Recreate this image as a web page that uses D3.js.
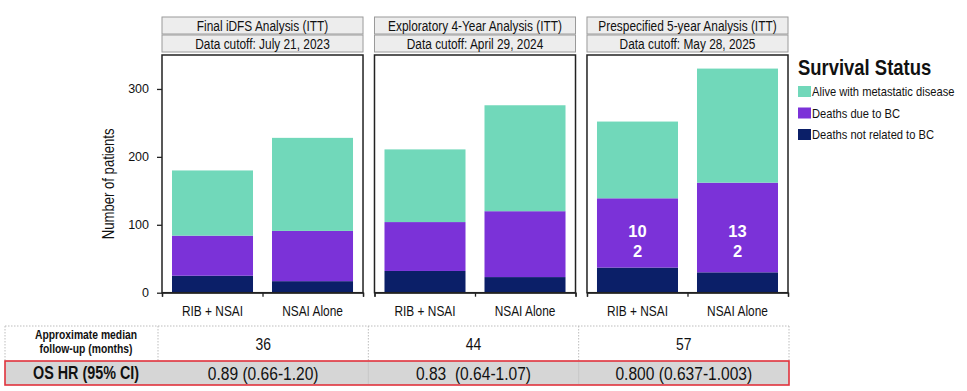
<!DOCTYPE html>
<html><head><meta charset="utf-8">
<script src="https://cdn.jsdelivr.net/npm/d3@7"></script>
<style>body{margin:0;background:#fff}svg{display:block}</style>
</head><body>
<svg id="chart" width="967" height="391"></svg>
<script>
const panelTitles = ["Final iDFS Analysis (ITT)", "Exploratory 4-Year Analysis (ITT)", "Prespecified 5-year Analysis (ITT)"];
const panelCutoffs = ["Data cutoff: July 21, 2023", "Data cutoff: April 29, 2024", "Data cutoff: May 28, 2025"];
const groups = ["RIB + NSAI", "NSAI Alone"];
const seriesNames = ["Deaths not related to BC", "Deaths due to BC", "Alive with metastatic disease"];
// per panel: [RIB + NSAI, NSAI Alone]
const deathsNotBC = [[25, 17], [32, 23], [37, 30]];
const deathsBC = [[59, 74], [72, 97], [102, 132]];
const aliveMet = [[96, 137], [107, 156], [113, 168]];
const labelPanels = [false, false, true];
const yTicks = [0, 100, 200, 300];
const tableLabels = ["Approximate median", "follow-up (months)"];
const hrLabel = "OS HR (95% CI)";
const followUp = ["36", "44", "57"];
const osHR = ["0.89 (0.66-1.20)", "0.83  (0.64-1.07)", "0.800 (0.637-1.003)"];
const colors = ["#0B1F68", "#7B32D8", "#71D8BA"];

const FONT = "'Liberation Sans',Arial,sans-serif";
const SQ = 0.82; // condensed look of the reference typeface

const svg = d3.select("#chart");
const y = d3.scaleLinear().domain([0, 350]).range([292.7, 55]);
const px = d3.scaleBand().domain(d3.range(3)).range([162, 788]).paddingInner(0.054);
const w = px.bandwidth();
const bx = d3.scaleBand().domain(groups).range([0, w]).paddingInner(0.19).paddingOuter(0.1);
const color = d3.scaleOrdinal().domain(seriesNames).range(colors);

// condensed text placed at (x, y)
function nar(sel, x, y, extra = "") {
  return sel.attr("font-family", FONT)
    .attr("transform", function (d, i) {
      const xx = typeof x === "function" ? x(d, i) : x;
      const yy = typeof y === "function" ? y(d, i) : y;
      return `translate(${xx},${yy}) ${extra} scale(${SQ},1)`;
    });
}

panelTitles.forEach((title, i) => {
  const g = svg.append("g").attr("transform", `translate(${px(i)},0)`);
  // header strips
  [[title, 17], [panelCutoffs[i], 35]].forEach(([txt, yy]) => {
    g.append("rect").attr("x", 0).attr("y", yy).attr("width", w).attr("height", 17)
      .attr("fill", "#EDEDED").attr("stroke", "#9A9A9A").attr("stroke-width", 1);
    nar(g.append("text"), w / 2, yy + 8.5).attr("dy", "0.36em")
      .attr("text-anchor", "middle").attr("font-size", 14.5)
      .attr("fill", "#111").text(txt);
  });
  // stacked bars
  const rows = groups.map((gn, j) => ({
    group: gn,
    [seriesNames[0]]: deathsNotBC[i][j],
    [seriesNames[1]]: deathsBC[i][j],
    [seriesNames[2]]: aliveMet[i][j]
  }));
  const layers = d3.stack().keys(seriesNames)(rows);
  g.selectAll("g.layer").data(layers).join("g").attr("class", "layer")
    .attr("fill", d => color(d.key))
    .selectAll("rect").data(d => d).join("rect")
    .attr("x", d => bx(d.data.group)).attr("width", bx.bandwidth())
    .attr("y", d => y(d[1])).attr("height", d => y(d[0]) - y(d[1]));
  // in-bar labels (deaths due to BC)
  if (labelPanels[i]) {
    layers[1].forEach(d => {
      const s = String(d[1] - d[0]);
      const cx = bx(d.data.group) + bx.bandwidth() / 2;
      const t = g.append("text").attr("x", cx)
        .attr("y", y(90)).attr("text-anchor", "middle")
        .attr("font-family", FONT).attr("font-weight", "bold").attr("font-size", 16.5).attr("fill", "#fff");
      t.append("tspan").attr("x", cx).attr("dy", "0.35em").text(s.slice(0, -1));
      t.append("tspan").attr("x", cx).attr("dy", "1.2em").text(s.slice(-1));
    });
  }
  // panel frame
  g.append("rect").attr("x", 0).attr("y", y(350)).attr("width", w).attr("height", y(0) - y(350))
    .attr("fill", "none").attr("stroke", "#222").attr("stroke-width", 1.5);
  // x axis: ticks at band boundaries
  const xt = d3.scaleLinear().domain([0, groups.length]).range([0, w]);
  const ax = g.append("g").attr("transform", `translate(0,${y(0)})`)
    .call(d3.axisBottom(xt).tickValues(d3.range(groups.length + 1)).tickSize(4).tickFormat(""));
  ax.selectAll("path,line").attr("stroke", "#222").attr("stroke-width", 1.3);
  nar(g.selectAll("text.xl").data(groups).join("text").attr("class", "xl"),
      d => bx(d) + bx.bandwidth() / 2, 316)
    .attr("text-anchor", "middle").attr("font-size", 14.5)
    .attr("fill", "#111").text(d => d);
  // y axis on first panel
  if (i === 0) {
    const ay = g.append("g").call(d3.axisLeft(y).tickValues(yTicks).tickSize(5).tickPadding(8));
    ay.select(".domain").remove();
    ay.selectAll("line").attr("stroke", "#222").attr("stroke-width", 1.3);
    ay.selectAll("text").attr("font-family", FONT).attr("font-size", 12.5).attr("fill", "#111");
  }
});

// y axis title
nar(svg.append("text"), 108, (y(0) + y(350)) / 2 + 10, "rotate(-90)")
  .attr("text-anchor", "middle").attr("dy", "0.35em").attr("font-size", 16)
  .attr("fill", "#111").text("Number of patients");

// legend
const lg = svg.append("g").attr("transform", "translate(798,0)");
nar(lg.append("text"), 0, 75).attr("font-weight", "bold")
  .attr("font-size", 22.5).attr("fill", "#111").text("Survival Status");
const legendOrder = seriesNames.slice().reverse();
legendOrder.forEach((s, k) => {
  const cy = 91.5 + k * 21.5;
  lg.append("rect").attr("x", 0).attr("y", cy - 5.5).attr("width", 13).attr("height", 11).attr("fill", color(s));
  nar(lg.append("text"), 14, cy).attr("dy", "0.35em")
    .attr("font-size", 13.6).attr("fill", "#111").text(s);
});

// table
const tx = d3.scaleBand().domain(d3.range(3)).range([158, 789]);
const tLeft = 5, r1Top = 326, r1Bot = 361, r2Bot = 385;
const tg = svg.append("g");
tg.append("line").attr("x1", tLeft).attr("x2", 789).attr("y1", r1Top).attr("y2", r1Top)
  .attr("stroke", "#BDBDBD").attr("stroke-dasharray", "1.5,1.5");
[tLeft, ...d3.range(3).map(k => tx(k)), 789].forEach(xx => {
  tg.append("line").attr("x1", xx).attr("x2", xx).attr("y1", r1Top).attr("y2", r1Bot)
    .attr("stroke", "#BDBDBD").attr("stroke-dasharray", "1.5,1.5");
});
tg.append("rect").attr("x", tLeft).attr("y", r1Bot).attr("width", 789 - tLeft).attr("height", r2Bot - r1Bot)
  .attr("fill", "#D6D6D6").attr("stroke", "#E0323C").attr("stroke-width", 1.6);
d3.range(1, 3).forEach(k => {
  tg.append("line").attr("x1", tx(k)).attr("x2", tx(k)).attr("y1", r1Bot + 1).attr("y2", r2Bot - 1)
    .attr("stroke", "#C4C4C4").attr("stroke-width", 0.8);
});
const labX = 86;
tableLabels.forEach((t, k) => {
  nar(tg.append("text"), labX, 334.5 + k * 14.2).attr("dy", "0.35em").attr("text-anchor", "middle")
    .attr("font-weight", "bold").attr("font-size", 12.6).attr("fill", "#111").text(t);
});
nar(tg.append("text"), labX, 373).attr("dy", "0.35em").attr("text-anchor", "middle")
  .attr("font-weight", "bold").attr("font-size", 17.5).attr("fill", "#111").text(hrLabel);
followUp.forEach((t, k) => {
  nar(tg.append("text"), tx(k) + tx.bandwidth() / 2, 344).attr("dy", "0.35em")
    .attr("text-anchor", "middle").attr("font-size", 17).attr("fill", "#111").text(t);
});
osHR.forEach((t, k) => {
  nar(tg.append("text"), tx(k) + tx.bandwidth() / 2, 373).attr("dy", "0.35em")
    .attr("text-anchor", "middle").attr("font-size", 19)
    .style("white-space", "pre").attr("fill", "#111").text(t);
});
</script>
</body></html>
